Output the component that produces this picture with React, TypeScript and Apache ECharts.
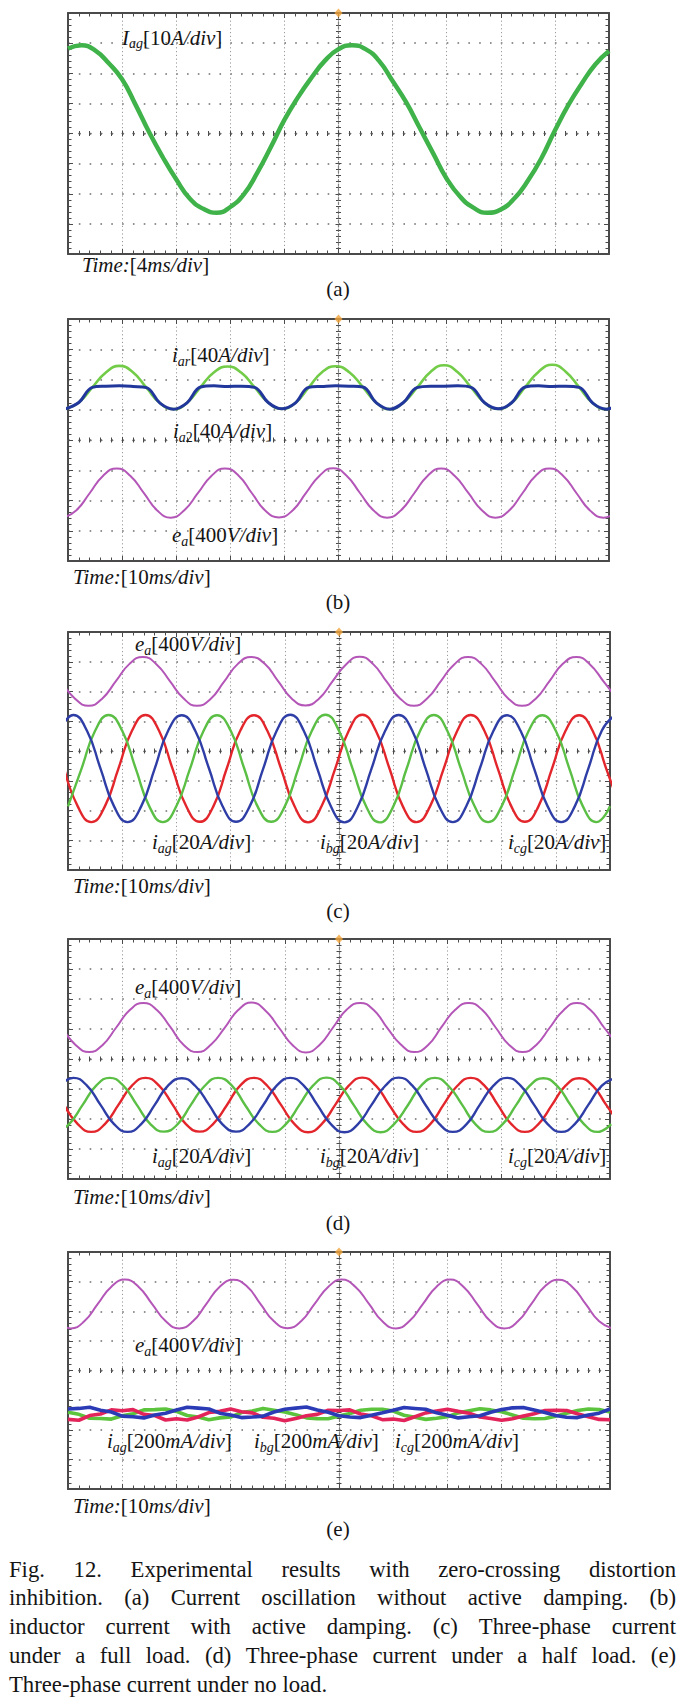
import React, { useEffect, useRef } from 'react';
import * as echarts from 'echarts';

// ---------- axis scale (oscilloscope divisions) ----------
const X_MIN = 0;
const X_MAX = 10;
const X_DIV = 1;
const Y_MIN = -4;
const Y_MAX = 4;
const Y_DIV = 1;
const TRIGGER = [5, 4];

// Each trace: values read at times t0 + i*step (div)
// ---------- (a) ----------
const A_IAG_T0 = 0, A_STEP = 0.25;
const A_IAG = [2.82, 2.93, 2.76, 2.34, 1.80, 0.95, 0.04, -0.78, -1.52, -2.16, -2.50, -2.63, -2.44, -2.02, -1.30, -0.45, 0.45, 1.20, 1.85, 2.42, 2.80, 2.93, 2.80, 2.41, 1.74, 1.04, 0.19, -0.66, -1.50, -2.10, -2.47, -2.63, -2.52, -2.16, -1.57, -0.82, 0.10, 0.95, 1.67, 2.30, 2.74];

// ---------- (b) ----------
const STEP_Q = 0.25;
const B_IAR_T0 = -0.05;
const B_IAR = [1.03, 1.24, 1.74, 2.23, 2.45, 2.24, 1.73, 1.22, 1.02, 1.23, 1.75, 2.24, 2.43, 2.23, 1.74, 1.24, 1.03, 1.22, 1.74, 2.25, 2.44, 2.24, 1.75, 1.23, 1.02, 1.24, 1.73, 2.25, 2.47, 2.25, 1.74, 1.23, 1.03, 1.23, 1.75, 2.26, 2.49, 2.26, 1.74, 1.22, 1.02, 1.24];
const B_IA2_T0 = -0.05;
const B_IA2 = [1.03, 1.24, 1.74, 1.78, 1.79, 1.77, 1.73, 1.22, 1.02, 1.23, 1.75, 1.79, 1.77, 1.78, 1.74, 1.24, 1.03, 1.22, 1.74, 1.77, 1.79, 1.78, 1.75, 1.23, 1.02, 1.24, 1.73, 1.78, 1.78, 1.79, 1.74, 1.23, 1.03, 1.23, 1.75, 1.79, 1.77, 1.78, 1.74, 1.22, 1.02, 1.24];
const B_EA_T0 = -0.1;
const B_EA = [-2.57, -2.33, -1.76, -1.18, -0.94, -1.18, -1.75, -2.33, -2.57, -2.32, -1.76, -1.19, -0.94, -1.17, -1.76, -2.34, -2.56, -2.33, -1.75, -1.18, -0.93, -1.18, -1.76, -2.33, -2.57, -2.33, -1.76, -1.18, -0.94, -1.19, -1.75, -2.32, -2.57, -2.34, -1.76, -1.17, -0.94, -1.18, -1.76, -2.33, -2.57, -2.33];

// ---------- (c) ----------
const C_EA_T0 = -0.12;
const C_EA = [2.34, 1.76, 1.52, 1.76, 2.34, 2.92, 3.16, 2.92, 2.35, 1.77, 1.52, 1.75, 2.33, 2.92, 3.16, 2.93, 2.34, 1.76, 1.53, 1.76, 2.34, 2.91, 3.17, 2.92, 2.33, 1.76, 1.52, 1.77, 2.35, 2.92, 3.16, 2.92, 2.34, 1.75, 1.52, 1.76, 2.34, 2.93, 3.16, 2.91, 2.34, 1.76];
const C_IAG_T0 = -0.07;
const C_IAG = [-0.59, -1.86, -2.39, -1.86, -0.59, 0.68, 1.21, 0.68, -0.60, -1.85, -2.38, -1.87, -0.58, 0.69, 1.20, 0.67, -0.59, -1.86, -2.40, -1.85, -0.59, 0.68, 1.22, 0.68, -0.58, -1.87, -2.39, -1.86, -0.60, 0.67, 1.21, 0.69, -0.59, -1.86, -2.38, -1.86, -0.59, 0.68, 1.20, 0.68, -0.59, -1.86];
const C_IBG_T0 = -0.15;
const C_IBG = [0.68, 1.21, 0.68, -0.59, -1.86, -2.39, -1.86, -0.59, 0.69, 1.20, 0.67, -0.58, -1.85, -2.38, -1.87, -0.60, 0.68, 1.22, 0.68, -0.59, -1.86, -2.40, -1.86, -0.59, 0.67, 1.21, 0.69, -0.60, -1.87, -2.39, -1.85, -0.58, 0.68, 1.20, 0.68, -0.59, -1.86, -2.39, -1.86, -0.59, 0.69, 1.21];
const C_ICG_T0 = 0;
const C_ICG = [-1.86, -0.59, 0.68, 1.21, 0.68, -0.59, -1.86, -2.39, -1.85, -0.60, 0.67, 1.20, 0.69, -0.58, -1.87, -2.38, -1.86, -0.59, 0.68, 1.22, 0.68, -0.59, -1.86, -2.40, -1.87, -0.58, 0.69, 1.21, 0.67, -0.60, -1.85, -2.39, -1.86, -0.59, 0.68, 1.20, 0.68, -0.59, -1.86, -2.39, -1.86];

// ---------- (d) ----------
const D_EA_T0 = -0.11;
const D_EA = [1.05, 0.47, 0.23, 0.47, 1.05, 1.63, 1.87, 1.63, 1.06, 0.46, 0.23, 0.48, 1.04, 1.63, 1.88, 1.62, 1.05, 0.47, 0.22, 0.47, 1.05, 1.64, 1.87, 1.63, 1.04, 0.48, 0.23, 0.46, 1.06, 1.63, 1.87, 1.64, 1.05, 0.47, 0.23, 0.47, 1.05, 1.62, 1.87, 1.63, 1.05, 0.47];
const D_IAG_T0 = -0.07;
const D_IAG = [-1.53, -2.17, -2.43, -2.17, -1.53, -0.89, -0.63, -0.89, -1.52, -2.18, -2.42, -2.16, -1.54, -0.88, -0.63, -0.90, -1.53, -2.17, -2.44, -2.17, -1.53, -0.89, -0.62, -0.89, -1.54, -2.16, -2.43, -2.18, -1.52, -0.90, -0.63, -0.88, -1.53, -2.17, -2.43, -2.17, -1.53, -0.89, -0.64, -0.89, -1.53, -2.17];
const D_IBG_T0 = -0.15;
const D_IBG = [-0.89, -0.63, -0.89, -1.53, -2.17, -2.43, -2.17, -1.53, -0.88, -0.64, -0.90, -1.52, -2.18, -2.42, -2.16, -1.54, -0.89, -0.63, -0.89, -1.53, -2.17, -2.44, -2.17, -1.53, -0.90, -0.62, -0.88, -1.54, -2.16, -2.43, -2.18, -1.52, -0.89, -0.63, -0.89, -1.53, -2.17, -2.43, -2.17, -1.53, -0.89, -0.64];
const D_ICG_T0 = -0.23;
const D_ICG = [-2.43, -2.17, -1.53, -0.89, -0.63, -0.89, -1.53, -2.17, -2.42, -2.18, -1.52, -0.90, -0.63, -0.88, -1.54, -2.16, -2.43, -2.17, -1.53, -0.89, -0.62, -0.89, -1.53, -2.17, -2.44, -2.16, -1.54, -0.88, -0.63, -0.90, -1.52, -2.18, -2.43, -2.17, -1.53, -0.89, -0.64, -0.89, -1.53, -2.17, -2.43, -2.17];

// ---------- (e) ----------
const E_EA_T0 = -0.2;
const E_EA = [1.66, 1.42, 1.66, 2.25, 2.83, 3.07, 2.83, 2.25, 1.67, 1.42, 1.65, 2.24, 2.83, 3.06, 2.84, 2.25, 1.66, 1.43, 1.66, 2.25, 2.82, 3.07, 2.83, 2.26, 1.66, 1.42, 1.67, 2.25, 2.83, 3.07, 2.82, 2.24, 1.65, 1.42, 1.66, 2.25, 2.84, 3.06, 2.83, 2.25, 1.66, 1.42];
const E_NOISE_T0 = 0, E_NOISE_STEP = 0.2;
const E_IAG = [-1.65, -1.68, -1.52, -1.47, -1.33, -1.36, -1.32, -1.48, -1.52, -1.67, -1.63, -1.67, -1.57, -1.42, -1.38, -1.30, -1.39, -1.43, -1.58, -1.61, -1.70, -1.62, -1.53, -1.48, -1.34, -1.35, -1.33, -1.47, -1.53, -1.66, -1.64, -1.69, -1.56, -1.43, -1.37, -1.31, -1.38, -1.44, -1.57, -1.62, -1.68, -1.63, -1.54, -1.46, -1.35, -1.34, -1.35, -1.46, -1.56, -1.65, -1.66];
const E_IBG = [-1.30, -1.28, -1.24, -1.34, -1.40, -1.54, -1.56, -1.60, -1.50, -1.44, -1.33, -1.24, -1.27, -1.30, -1.44, -1.50, -1.59, -1.57, -1.54, -1.40, -1.31, -1.27, -1.23, -1.33, -1.41, -1.53, -1.57, -1.59, -1.51, -1.43, -1.34, -1.25, -1.28, -1.31, -1.43, -1.51, -1.60, -1.56, -1.53, -1.41, -1.32, -1.26, -1.25, -1.33, -1.42, -1.52, -1.58, -1.59, -1.50, -1.44, -1.30];
const E_ICG = [-1.41, -1.48, -1.61, -1.62, -1.64, -1.53, -1.46, -1.33, -1.32, -1.30, -1.38, -1.52, -1.57, -1.66, -1.60, -1.57, -1.42, -1.37, -1.28, -1.34, -1.40, -1.49, -1.60, -1.63, -1.63, -1.54, -1.45, -1.34, -1.31, -1.31, -1.37, -1.51, -1.58, -1.65, -1.61, -1.56, -1.43, -1.36, -1.29, -1.33, -1.39, -1.50, -1.61, -1.63, -1.62, -1.54, -1.44, -1.35, -1.30, -1.32, -1.40];

// ---------- texts ----------
const PANEL_TAGS = ['(a)', '(b)', '(c)', '(d)', '(e)'];
const CAPTION_LINES = [
  'Fig. 12. Experimental results with zero-crossing distortion',
  'inhibition. (a) Current oscillation without active damping. (b)',
  'inductor current with active damping. (c) Three-phase current',
  'under a full load. (d) Three-phase current under a half load. (e)',
  'Three-phase current under no load.',
];

type Seg = { t: string; it?: boolean; sub?: boolean };
const timeLabel = (n: string): Seg[] => [{ t: 'Time:', it: true }, { t: '[' + n }, { t: 'ms/div', it: true }, { t: ']' }];
const chan = (sym: string, sub: Seg[], scale: string, unit: string): Seg[] => [
  { t: sym, it: true }, ...sub, { t: '[' + scale }, { t: unit, it: true }, { t: ']' },
];

// ---------- styling ----------
const FONT_FAMILY = 'Liberation Serif';
const TEXT_COLOR = '#141414';
const FRAME = '#4a4a4a';
const GRID_V = '#9a9a9a';
const GRID_H = '#6e6e6e';
const C_MAG = '#b456b8';
const C_RED = '#e3262c';
const C_BLUE = '#2e3ea6';
const C_GREEN = '#5bbf45';

const PANELS = [
  {
    rect: [68, 13, 541, 241], tagY: 289,
    series: [{ data: A_IAG, t0: A_IAG_T0, step: A_STEP, color: '#3fb34a', width: 4.5, smooth: 0.5 }],
    labels: [
      { x: 122, y: 37.5, segs: chan('I', [{ t: 'ag', it: true, sub: true }], '10', 'A/div') },
      { x: 82, y: 265, segs: timeLabel('4') },
    ],
  },
  {
    rect: [68, 319, 541, 242], tagY: 602,
    series: [
      { data: B_IAR, t0: B_IAR_T0, step: STEP_Q, color: '#72cc48', width: 2.6, smooth: 0.5 },
      { data: B_IA2, t0: B_IA2_T0, step: STEP_Q, color: '#22379c', width: 3, smooth: 0.4 },
      { data: B_EA, t0: B_EA_T0, step: STEP_Q, color: C_MAG, width: 2, smooth: 0.5 },
    ],
    labels: [
      { x: 172, y: 355, segs: chan('i', [{ t: 'ar', it: true, sub: true }], '40', 'A/div') },
      { x: 173, y: 431, segs: chan('i', [{ t: 'a', it: true, sub: true }, { t: '2', sub: true }], '40', 'A/div') },
      { x: 172, y: 535, segs: chan('e', [{ t: 'a', it: true, sub: true }], '400', 'V/div') },
      { x: 73, y: 577, segs: timeLabel('10') },
    ],
  },
  {
    rect: [68, 632, 542, 238], tagY: 911,
    series: [
      { data: C_EA, t0: C_EA_T0, step: STEP_Q, color: C_MAG, width: 2, smooth: 0.5 },
      { data: C_IAG, t0: C_IAG_T0, step: STEP_Q, color: C_RED, width: 2.4, smooth: 0.5 },
      { data: C_ICG, t0: C_ICG_T0, step: STEP_Q, color: C_GREEN, width: 2.4, smooth: 0.5 },
      { data: C_IBG, t0: C_IBG_T0, step: STEP_Q, color: C_BLUE, width: 2.4, smooth: 0.5 },
    ],
    labels: [
      { x: 135, y: 644, segs: chan('e', [{ t: 'a', it: true, sub: true }], '400', 'V/div') },
      { x: 152, y: 842, segs: chan('i', [{ t: 'ag', it: true, sub: true }], '20', 'A/div') },
      { x: 320, y: 842, segs: chan('i', [{ t: 'bg', it: true, sub: true }], '20', 'A/div') },
      { x: 508, y: 842, segs: chan('i', [{ t: 'cg', it: true, sub: true }], '20', 'A/div') },
      { x: 73, y: 886, segs: timeLabel('10') },
    ],
  },
  {
    rect: [68, 939, 542, 240], tagY: 1223,
    series: [
      { data: D_EA, t0: D_EA_T0, step: STEP_Q, color: C_MAG, width: 2, smooth: 0.5 },
      { data: D_IAG, t0: D_IAG_T0, step: STEP_Q, color: C_RED, width: 2.4, smooth: 0.5 },
      { data: D_ICG, t0: D_ICG_T0, step: STEP_Q, color: C_GREEN, width: 2.4, smooth: 0.5 },
      { data: D_IBG, t0: D_IBG_T0, step: STEP_Q, color: C_BLUE, width: 2.4, smooth: 0.5 },
    ],
    labels: [
      { x: 135, y: 987, segs: chan('e', [{ t: 'a', it: true, sub: true }], '400', 'V/div') },
      { x: 152, y: 1156, segs: chan('i', [{ t: 'ag', it: true, sub: true }], '20', 'A/div') },
      { x: 320, y: 1156, segs: chan('i', [{ t: 'bg', it: true, sub: true }], '20', 'A/div') },
      { x: 508, y: 1156, segs: chan('i', [{ t: 'cg', it: true, sub: true }], '20', 'A/div') },
      { x: 73, y: 1197, segs: timeLabel('10') },
    ],
  },
  {
    rect: [68, 1252, 542, 237], tagY: 1529,
    series: [
      { data: E_EA, t0: E_EA_T0, step: STEP_Q, color: C_MAG, width: 2, smooth: 0.5 },
      { data: E_ICG, t0: E_NOISE_T0, step: E_NOISE_STEP, color: '#5cc43c', width: 3.6, smooth: false },
      { data: E_IAG, t0: E_NOISE_T0, step: E_NOISE_STEP, color: '#e3245a', width: 3.6, smooth: false },
      { data: E_IBG, t0: E_NOISE_T0, step: E_NOISE_STEP, color: '#2b3bb6', width: 3.6, smooth: false },
    ],
    labels: [
      { x: 135, y: 1345, segs: chan('e', [{ t: 'a', it: true, sub: true }], '400', 'V/div') },
      { x: 107, y: 1441, segs: chan('i', [{ t: 'ag', it: true, sub: true }], '200', 'mA/div') },
      { x: 254, y: 1441, segs: chan('i', [{ t: 'bg', it: true, sub: true }], '200', 'mA/div') },
      { x: 395, y: 1441, segs: chan('i', [{ t: 'cg', it: true, sub: true }], '200', 'mA/div') },
      { x: 73, y: 1506, segs: timeLabel('10') },
    ],
  },
];

const LABEL_SIZE = 21;
const SUB_SIZE = 14;
const TAG_X = 338;
const CAPTION = { x0: 9, x1: 676, y0: 1569, lineGap: 28.8, size: 22.7 };

// ---------- helpers ----------
let measureCtx: CanvasRenderingContext2D | null = null;
function textWidth(t: string, size: number, italic: boolean) {
  if (!measureCtx) {
    const c = document.createElement('canvas');
    measureCtx = c.getContext('2d');
  }
  if (!measureCtx) return t.length * size * 0.45;
  measureCtx.font = `${italic ? 'italic ' : ''}${size}px "${FONT_FAMILY}", serif`;
  return measureCtx.measureText(t).width;
}
function textEl(text: string, x: number, y: number, size: number, italic: boolean, align = 'left') {
  return {
    type: 'text', x, y, z: 100, silent: true,
    style: {
      text, fontFamily: FONT_FAMILY, fontSize: size, fontStyle: italic ? 'italic' : 'normal',
      fill: TEXT_COLOR, textAlign: align, textVerticalAlign: 'middle', align, verticalAlign: 'middle',
    },
  };
}
function labelEls(x0: number, yMid: number, segs: Seg[]) {
  const out: any[] = [];
  let x = x0;
  for (const s of segs) {
    const size = s.sub ? SUB_SIZE : LABEL_SIZE;
    out.push(textEl(s.t, x, yMid + (s.sub ? 6 : 0), size, !!s.it));
    x += textWidth(s.t, size, !!s.it);
  }
  return out;
}
function captionEls() {
  const out: any[] = [];
  CAPTION_LINES.forEach((line, li) => {
    const y = CAPTION.y0 + li * CAPTION.lineGap;
    const words = line.split(' ');
    const widths = words.map((w) => textWidth(w, CAPTION.size, false));
    const total = widths.reduce((a, b) => a + b, 0);
    const justify = li < CAPTION_LINES.length - 1;
    const gap = justify ? (CAPTION.x1 - CAPTION.x0 - total) / (words.length - 1) : textWidth(' ', CAPTION.size, false);
    let x = CAPTION.x0;
    words.forEach((w, i) => {
      out.push(textEl(w, x, y, CAPTION.size, false));
      x += widths[i] + gap;
    });
  });
  return out;
}
function pairs(values: number[], t0: number, step: number) {
  return values.map((v, i) => [Math.round((t0 + i * step) * 1000) / 1000, v]);
}

function buildOption() {
  const grid: any[] = [];
  const xAxis: any[] = [];
  const yAxis: any[] = [];
  const series: any[] = [];
  let graphics: any[] = [];

  PANELS.forEach((p, gi) => {
    const [left, top, width, height] = p.rect;
    grid.push({ left, top, width, height, show: false, containLabel: false, outerBoundsMode: 'none' });
    const tick = (len: number) => ({ show: true, inside: true, length: len, lineStyle: { color: FRAME, width: 1 } });
    const minor = (len: number) => ({ show: true, splitNumber: 5, length: len, lineStyle: { color: FRAME, width: 1 } });
    const xb = { type: 'value', gridIndex: gi, min: X_MIN, max: X_MAX, interval: X_DIV, axisLabel: { show: false }, silent: true };
    const yb = { type: 'value', gridIndex: gi, min: Y_MIN, max: Y_MAX, interval: Y_DIV, axisLabel: { show: false }, silent: true };
    const hGap = width / 50 - 1.6;
    xAxis.push(
      { ...xb, position: 'bottom', axisLine: { show: true, onZero: false, lineStyle: { color: FRAME, width: 2 } }, axisTick: tick(5), minorTick: minor(3.5), splitLine: { show: true, lineStyle: { color: GRID_V, width: 1, type: [1.2, 2.6] } } },
      { ...xb, position: 'top', axisLine: { show: true, onZero: false, lineStyle: { color: FRAME, width: 2 } }, axisTick: tick(5), minorTick: minor(3.5), splitLine: { show: false } },
      { ...xb, position: 'bottom', axisLine: { show: true, onZero: true, onZeroAxisIndex: 4 * gi, lineStyle: { color: GRID_H, width: 1.4, type: [1.4, width / 50 - 1.4] } }, axisTick: tick(3), minorTick: minor(2.5), splitLine: { show: false } },
      { ...xb, position: 'top', axisLine: { show: false, onZero: true, onZeroAxisIndex: 4 * gi }, axisTick: tick(3), minorTick: minor(2.5), splitLine: { show: false } },
    );
    yAxis.push(
      { ...yb, position: 'left', axisLine: { show: true, onZero: false, lineStyle: { color: FRAME, width: 2 } }, axisTick: tick(5), minorTick: minor(3.5), splitLine: { show: true, lineStyle: { color: GRID_H, width: 1.6, type: [1.6, hGap] } } },
      { ...yb, position: 'right', axisLine: { show: true, onZero: false, lineStyle: { color: FRAME, width: 2 } }, axisTick: tick(5), minorTick: minor(3.5), splitLine: { show: false } },
      { ...yb, position: 'left', offset: -width / 2, axisLine: { show: true, onZero: false, lineStyle: { color: '#808080', width: 1.2, type: [2.5, 2] } }, axisTick: tick(3), minorTick: minor(2.5), splitLine: { show: false } },
      { ...yb, position: 'right', offset: -width / 2, axisLine: { show: false, onZero: false }, axisTick: tick(3), minorTick: minor(2.5), splitLine: { show: false } },
    );
    p.series.forEach((s: any) => {
      series.push({
        type: 'line', xAxisIndex: 4 * gi, yAxisIndex: 4 * gi, data: pairs(s.data, s.t0, s.step),
        showSymbol: false, symbol: 'none', smooth: s.smooth, silent: true, z: 3,
        lineStyle: { color: s.color, width: s.width, join: 'round' }, itemStyle: { color: s.color },
      });
    });
    series.push({
      type: 'scatter', xAxisIndex: 4 * gi, yAxisIndex: 4 * gi, data: [TRIGGER], symbol: 'diamond',
      symbolSize: [8, 9], itemStyle: { color: '#f2a43a' }, clip: false, silent: true, z: 6,
    });
    p.labels.forEach((l: any) => { graphics = graphics.concat(labelEls(l.x, l.y, l.segs)); });
    graphics.push(textEl(PANEL_TAGS[gi], TAG_X, p.tagY, LABEL_SIZE, false, 'center'));
  });
  graphics = graphics.concat(captionEls());

  return {
    animation: false,
    backgroundColor: '#ffffff',
    grid, xAxis, yAxis, series,
    graphic: { elements: graphics },
  };
}

export default function App() {
  const ref = useRef<HTMLDivElement>(null);
  useEffect(() => {
    document.body.style.margin = '0';
    const chart = echarts.init(ref.current as HTMLDivElement, null, { renderer: 'svg', width: 685, height: 1704 });
    chart.setOption(buildOption() as any);
    return () => chart.dispose();
  }, []);
  return <div ref={ref} style={{ width: 685, height: 1704, background: '#ffffff' }} />;
}
